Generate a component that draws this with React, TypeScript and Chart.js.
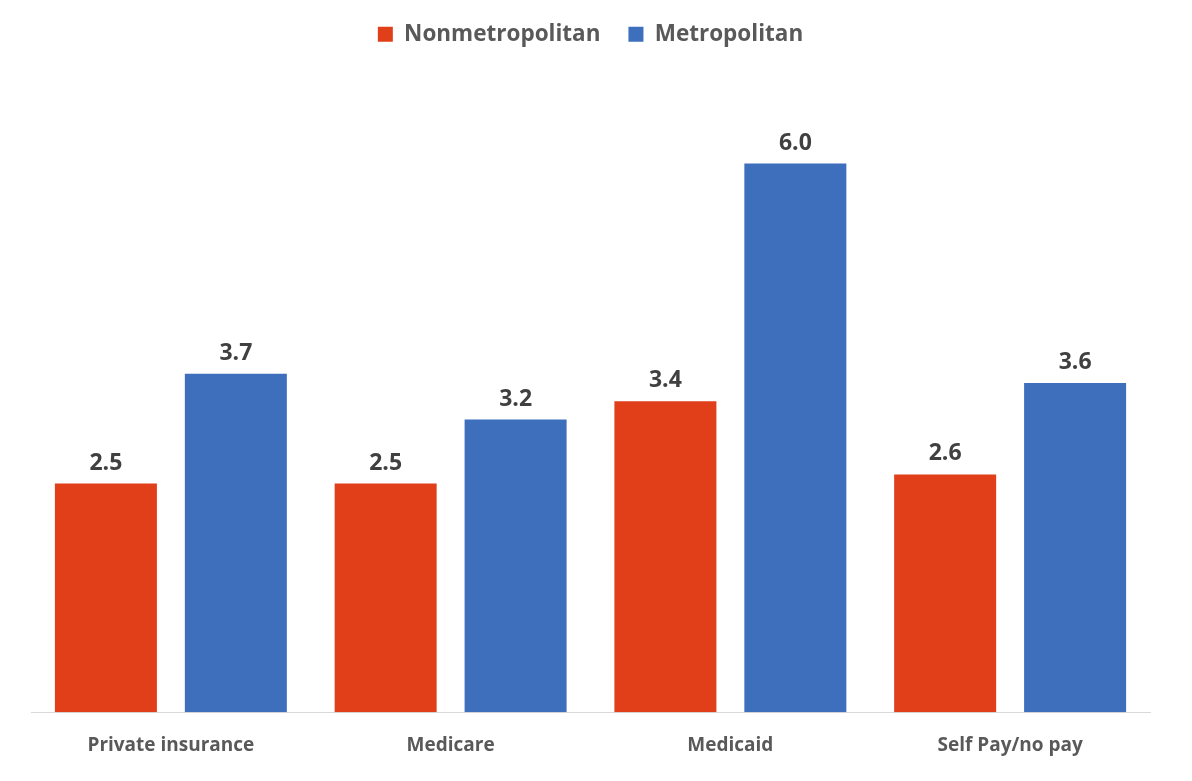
import React, { useEffect, useRef } from "react";
import { Chart, registerables } from "chart.js";

Chart.register(...registerables);

const categories = ["Private insurance", "Medicare", "Medicaid", "Self Pay/no pay"];
const nonmetro = [2.5, 2.5, 3.4, 2.6];
const metro = [3.7, 3.2, 6.0, 3.6];

const RED = "#E03F1A";
const BLUE = "#3D6FBD";
const FONT = "'Open Sans', 'Noto Sans', sans-serif";

const valueLabels = {
  id: "valueLabels",
  afterDatasetsDraw(chart: any) {
    const ctx = chart.ctx;
    ctx.save();
    ctx.font = `bold 23px ${FONT}`;
    ctx.fillStyle = "#404040";
    ctx.textAlign = "center";
    ctx.textBaseline = "bottom";
    chart.data.datasets.forEach((ds: any, i: number) => {
      const meta = chart.getDatasetMeta(i);
      meta.data.forEach((bar: any, j: number) => {
        ctx.fillText(Number(ds.data[j]).toFixed(1), bar.x, bar.y - 9);
      });
    });
    ctx.restore();
  },
};

const legendHeight = {
  id: "legendHeight",
  beforeInit(chart: any) {
    const legend = chart.legend;
    if (!legend) return;
    const origFit = legend.fit;
    legend.fit = function () {
      origFit.call(this);
      this.height = 69;
    };
  },
  afterLayout(chart: any) {
    const legend = chart.legend;
    if (!legend) return;
    legend.top -= 8;
    legend.bottom -= 8;
  },
};

export default function App() {
  const ref = useRef<HTMLCanvasElement>(null);
  useEffect(() => {
    if (!ref.current) return;
    const chart = new Chart(ref.current, {
      type: "bar",
      data: {
        labels: categories,
        datasets: [
          { label: "Nonmetropolitan", data: nonmetro, backgroundColor: RED },
          { label: "Metropolitan", data: metro, backgroundColor: BLUE },
        ],
      },
      options: {
        animation: false,
        responsive: true,
        maintainAspectRatio: false,
        layout: { padding: { left: 31, right: 42, top: 3, bottom: 10 } },
        datasets: { bar: { categoryPercentage: 0.929, barPercentage: 0.785 } } as any,
        plugins: {
          legend: {
            position: "top",
            labels: {
              font: { family: FONT, size: 22.5, weight: "bold" },
              color: "#595959",
              boxWidth: 15,
              boxHeight: 15,
              padding: 28,
            },
          },
          tooltip: { enabled: false },
        },
        scales: {
          x: {
            grid: { display: false },
            border: { color: "#D9D9D9", width: 1 },
            ticks: {
              font: { family: FONT, size: 19, weight: "bold" },
              color: "#595959",
              padding: 14,
            },
          },
          y: {
            display: false,
            min: 0,
            max: 7,
          },
        },
      },
      plugins: [valueLabels, legendHeight],
    });
    return () => chart.destroy();
  }, []);
  return (
    <div style={{ position: "fixed", left: 0, top: 0, width: 1192, height: 781, background: "#fff" }}>
      <canvas ref={ref} />
    </div>
  );
}
